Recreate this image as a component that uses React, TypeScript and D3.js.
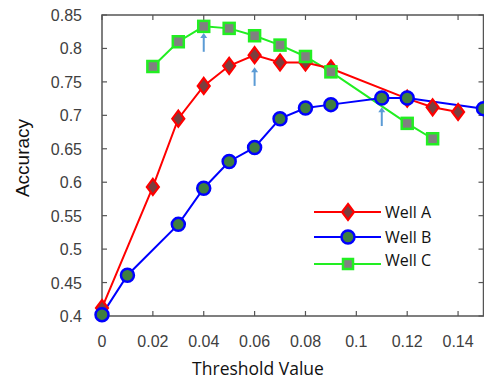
import * as d3 from "d3";

const thresholds = [0, 0.01, 0.02, 0.03, 0.04, 0.05, 0.06, 0.07, 0.08, 0.09, 0.11, 0.12, 0.13, 0.14, 0.15];

const wellAx = [0, 0.02, 0.03, 0.04, 0.05, 0.06, 0.07, 0.08, 0.09, 0.12, 0.13, 0.14];
const wellA = [0.412, 0.593, 0.695, 0.744, 0.774, 0.79, 0.779, 0.779, 0.77, 0.725, 0.712, 0.705];

const wellBx = [0, 0.01, 0.03, 0.04, 0.05, 0.06, 0.07, 0.08, 0.09, 0.11, 0.12, 0.15];
const wellB = [0.402, 0.461, 0.537, 0.591, 0.631, 0.652, 0.695, 0.711, 0.716, 0.726, 0.726, 0.71];

const wellCx = [0.02, 0.03, 0.04, 0.05, 0.06, 0.07, 0.08, 0.09, 0.12, 0.13];
const wellC = [0.773, 0.81, 0.833, 0.83, 0.819, 0.805, 0.788, 0.765, 0.688, 0.665];

// arrows marking the chosen thresholds
const arrowX = [0.04, 0.06, 0.11];
const arrowFrom = [0.795, 0.744, 0.684];
const arrowTo = [0.823, 0.772, 0.712];

const xTicks = [0, 0.02, 0.04, 0.06, 0.08, 0.1, 0.12, 0.14];
const yTicks = [0.4, 0.45, 0.5, 0.55, 0.6, 0.65, 0.7, 0.75, 0.8, 0.85];

const seriesNames = ["Well A", "Well B", "Well C"];

const W = 484;
const H = 379;
const left = 102;
const right = 483.5;
const top = 15;
const bottom = 316;

export default function App() {
  const x = d3.scaleLinear().domain([0, 0.15]).range([left, right]);
  const y = d3.scaleLinear().domain([0.4, 0.85]).range([bottom, top]);
  const line = d3
    .line<[number, number]>()
    .x((d) => x(d[0]))
    .y((d) => y(d[1]));

  const ptsA = wellAx.map((v, i) => [v, wellA[i]] as [number, number]);
  const ptsB = wellBx.map((v, i) => [v, wellB[i]] as [number, number]);
  const ptsC = wellCx.map((v, i) => [v, wellC[i]] as [number, number]);

  const axisColor = "#555";
  const tickLen = 5;

  const diamond = (cx: number, cy: number) =>
    `M${cx},${cy - 8} L${cx + 6},${cy} L${cx},${cy + 8} L${cx - 6},${cy} Z`;

  const legendY = [212, 237, 264];
  const legendText = [212, 237, 260];

  return (
    <svg
      width={W}
      height={H}
      style={{ position: "absolute", left: 0, top: 0, background: "#fff" }}
    >
      <defs>
        <clipPath id="plot">
          <rect x={left - 10} y={top - 10} width={right - left + 20} height={bottom - top + 20} />
        </clipPath>
      </defs>

      {/* frame */}
      <rect x={left} y={top} width={right - left} height={bottom - top} fill="none" stroke={axisColor} strokeWidth={1.5} />

      {xTicks.map((t) => (
        <g key={"xt" + t}>
          <line x1={x(t)} x2={x(t)} y1={bottom} y2={bottom - tickLen} stroke={axisColor} strokeWidth={1.2} />
          <line x1={x(t)} x2={x(t)} y1={top} y2={top + tickLen} stroke={axisColor} strokeWidth={1.2} />
          <text
            x={x(t)}
            y={bottom + 31}
            textAnchor="middle"
            fontFamily="Liberation Sans, Arial, sans-serif"
            fontSize={16}
            fill="#404040"
          >
            {t === 0 ? "0" : String(t)}
          </text>
        </g>
      ))}
      {yTicks.map((t) => (
        <g key={"yt" + t}>
          <line x1={left} x2={left + tickLen} y1={y(t)} y2={y(t)} stroke={axisColor} strokeWidth={1.2} />
          <line x1={right} x2={right - tickLen} y1={y(t)} y2={y(t)} stroke={axisColor} strokeWidth={1.2} />
          <text
            x={82}
            y={y(t) + 6}
            textAnchor="end"
            fontFamily="Liberation Sans, Arial, sans-serif"
            fontSize={16}
            fill="#404040"
          >
            {String(t)}
          </text>
        </g>
      ))}

      <text
        x={258}
        y={375}
        textAnchor="middle"
        fontFamily="Open Sans, sans-serif"
        fontSize={17.5}
        fill="#111"
      >
        Threshold Value
      </text>
      <text
        transform={`translate(29,${158}) rotate(-90)`}
        textAnchor="middle"
        fontFamily="Liberation Sans, Arial, sans-serif"
        fontSize={19}
        fill="#111"
      >
        Accuracy
      </text>

      <g clipPath="url(#plot)">
        <path d={line(ptsC) ?? ""} fill="none" stroke="#22ee22" strokeWidth={2} />
        <path d={line(ptsA) ?? ""} fill="none" stroke="#ff0000" strokeWidth={2} />
        <path d={line(ptsB) ?? ""} fill="none" stroke="#0000ff" strokeWidth={2} />

        {ptsA.map((p, i) => (
          <path key={"a" + i} d={diamond(x(p[0]), y(p[1]))} fill="#7a3f3f" stroke="#ff0000" strokeWidth={2.2} />
        ))}
        {ptsB.map((p, i) => (
          <circle key={"b" + i} cx={x(p[0])} cy={y(p[1])} r={6.5} fill="#3f7f3f" stroke="#0000ff" strokeWidth={2.5} />
        ))}
        {ptsC.map((p, i) => (
          <rect
            key={"c" + i}
            x={x(p[0]) - 5.5}
            y={y(p[1]) - 5.5}
            width={11}
            height={11}
            fill="#808080"
            stroke="#22ee22"
            strokeWidth={2.5}
          />
        ))}
      </g>

      {arrowX.map((ax, i) => {
        const px = x(ax);
        const y1 = y(arrowFrom[i]);
        const y2 = y(arrowTo[i]);
        return (
          <g key={"arr" + i}>
            <line x1={px} x2={px} y1={y1} y2={y2 + 4} stroke="#5b9bd5" strokeWidth={2} />
            <path d={`M${px - 3.5},${y2 + 5} L${px},${y2} L${px + 3.5},${y2 + 5} Z`} fill="#5b9bd5" />
          </g>
        );
      })}

      {/* legend */}
      {seriesNames.map((name, i) => {
        const ly = legendY[i];
        const mx = 348;
        return (
          <g key={name}>
            <line
              x1={314}
              x2={381}
              y1={ly}
              y2={ly}
              stroke={i === 0 ? "#ff0000" : i === 1 ? "#0000ff" : "#22ee22"}
              strokeWidth={2}
            />
            {i === 0 && <path d={diamond(mx, ly)} fill="#7a3f3f" stroke="#ff0000" strokeWidth={2.2} />}
            {i === 1 && <circle cx={mx} cy={ly} r={6.5} fill="#3f7f3f" stroke="#0000ff" strokeWidth={2.5} />}
            {i === 2 && (
              <rect x={mx - 5} y={ly - 5} width={10} height={10} fill="#808080" stroke="#22ee22" strokeWidth={2.5} />
            )}
            <text
              x={385}
              y={legendText[i] + 6}
              fontFamily="Open Sans, sans-serif"
              fontSize={16}
              fill="#111"
            >
              {name}
            </text>
          </g>
        );
      })}
    </svg>
  );
}
